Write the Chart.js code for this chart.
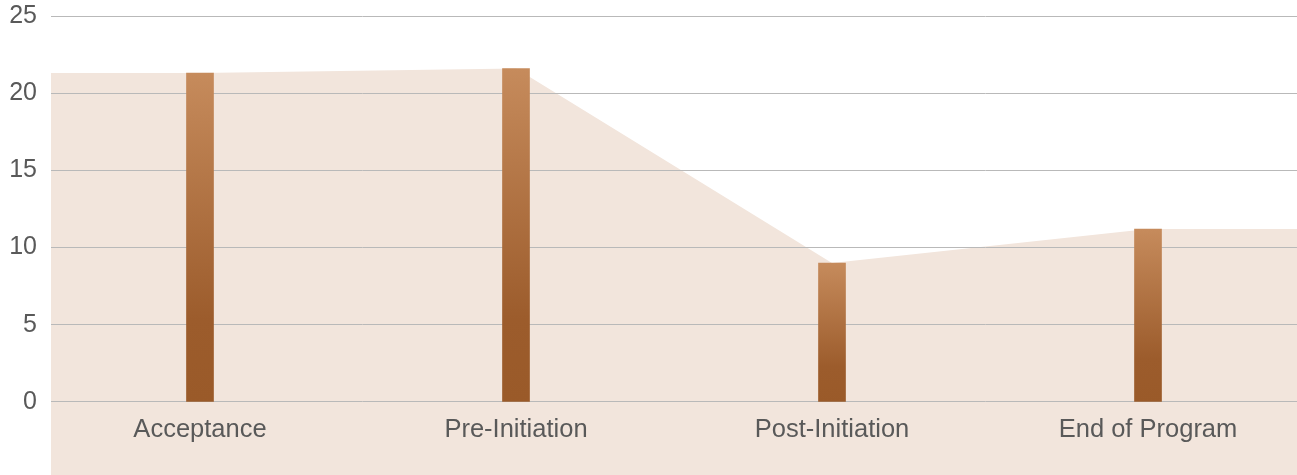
<!DOCTYPE html>
<html>
<head>
<meta charset="utf-8">
<script src="https://cdn.jsdelivr.net/npm/chart.js@4/dist/chart.umd.min.js"></script>
<style>
  html, body { margin: 0; padding: 0; background: #ffffff; overflow: hidden; width: 1297px; height: 475px; }
  /* the plot's lower band runs off the bottom edge of the page */
  canvas { display: block; margin-top: -13px; }
</style>
</head>
<body>
<canvas id="chart" width="1297" height="518"></canvas>
<script>
// Program stages and the average value at each stage
const categories = ['Acceptance', 'Pre-Initiation', 'Post-Initiation', 'End of Program'];
const values = [21.3, 21.6, 9.0, 11.2];
const yTickValues = [0, 5, 10, 15, 20, 25];

const FONT = '"Liberation Sans", Arial, Helvetica, sans-serif';
const TEXT = '#595959';
const X_MIN = -0.4715, X_MAX = 3.4715;

const barPoints = values.map((v, i) => ({ x: i, y: v }));
// Backdrop area: flat out to both plot edges, joining the stage values
const areaPoints = [{ x: X_MIN, y: values[0] }]
  .concat(barPoints)
  .concat([{ x: X_MAX, y: values[values.length - 1] }]);

function barGradient(ctx) {
  const chart = ctx.chart;
  if (!chart.chartArea || ctx.type !== 'data') return '#A8683A';
  const y = chart.scales.y;
  const top = y.getPixelForValue(values[ctx.dataIndex]);
  const base = y.getPixelForValue(0);
  const g = chart.ctx.createLinearGradient(0, top, 0, base);
  g.addColorStop(0, '#C68B5C');
  g.addColorStop(0.75, '#9C5C2C');
  g.addColorStop(1, '#9A5A29');
  return g;
}

new Chart(document.getElementById('chart'), {
  data: {
    datasets: [
      {
        type: 'bar',
        data: barPoints,
        backgroundColor: barGradient,
        borderWidth: 0,
        barThickness: 27,
        order: 1
      },
      {
        type: 'line',
        data: areaPoints,
        borderWidth: 0,
        borderColor: 'rgba(0,0,0,0)',
        backgroundColor: '#F2E5DC',
        pointRadius: 0,
        tension: 0,
        fill: 'start',
        order: 2
      }
    ]
  },
  options: {
    responsive: false,
    animation: false,
    events: [],
    layout: { padding: 0 },
    plugins: {
      legend: { display: false },
      tooltip: { enabled: false },
      filler: { drawTime: 'beforeDraw' }
    },
    scales: {
      x: {
        type: 'linear',
        position: { y: 0 },
        offset: false,
        min: X_MIN,
        max: X_MAX,
        afterBuildTicks: (scale) => {
          scale.ticks = categories.map((_, i) => ({ value: i }));
        },
        afterFit: (scale) => { scale.height = 0; },
        grid: { display: false, drawTicks: false },
        border: { display: false },
        ticks: {
          autoSkip: false,
          maxRotation: 0,
          padding: 13,
          color: TEXT,
          font: { family: FONT, size: 25.5 },
          callback: (v) => categories[v]
        }
      },
      y: {
        type: 'linear',
        min: -4.8,
        max: 25,
        afterBuildTicks: (scale) => {
          scale.ticks = yTickValues.map(v => ({ value: v }));
        },
        afterFit: (scale) => { scale.width = 51; },
        grid: { color: '#B9B9B9', lineWidth: 1, drawTicks: false },
        border: { display: false },
        ticks: {
          padding: 14,
          color: TEXT,
          font: { family: FONT, size: 25 }
        }
      }
    }
  }
});
</script>
</body>
</html>
